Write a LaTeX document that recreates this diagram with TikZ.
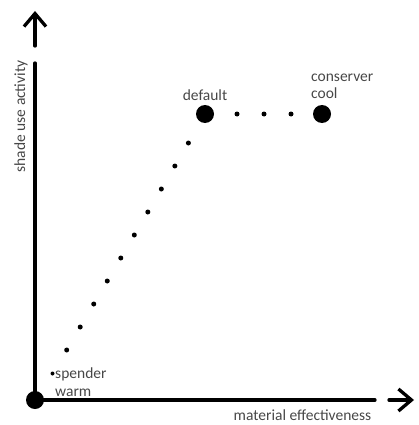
\documentclass[tikz,border=0pt]{standalone}
\usepackage{fontspec}
\setmainfont{Carlito}
\usetikzlibrary{arrows.meta}

\tikzset{
	bigdot/.style={circle,fill=black,inner sep=0pt,minimum size=18pt},
	smalldot/.style={circle,fill=black,inner sep=0pt,minimum size=5pt},
	tinydot/.style={circle,fill=black,inner sep=0pt,minimum size=4pt},
	axisline/.style={line width=3.3pt},
	lbl/.style={text=black!72,inner sep=0pt,font=\fontsize{15.5}{17.5}\selectfont}
}

\begin{document}
\begin{tikzpicture}[line cap=round,line join=round,>={Straight Barb[length=13pt,width=22pt]},x=1pt,y=-1pt]
	\useasboundingbox (0,0) rectangle (418,425);
	% points
	\node[bigdot] (origin) at (35,400) {};
	\node[bigdot] (default) at (205,114) {};
	\node[bigdot] (conserver) at (322,114) {};
	\node[tinydot] (spender) at (52.5,373.5) {};
	\foreach \i in {0,...,9}
		\node[smalldot] (d\i) at ({66.7+13.52*\i},{350-23*\i}) {};
	\foreach \i/\x in {1/237,2/264,3/291}
		\node[smalldot] (h\i) at (\x,114) {};
	% axes
	\coordinate (ytop) at (35,63);
	\coordinate (yfoot) at (35,46);
	\coordinate (ytip) at (35,11);
	\coordinate (xend) at (375,400);
	\coordinate (xfoot) at (389,400);
	\coordinate (xtip) at (414,400);
	\draw[axisline] (origin.center) -- (ytop);
	\draw[axisline,->] (yfoot) -- (ytip);
	\draw[axisline] (origin.center) -- (xend);
	\draw[axisline,->] (xfoot) -- (xtip);
	% labels
	\node[lbl,rotate=90] (ylabel) at (21,116.5) {shade use activity};
	\node[lbl] (xlabel) at (302.5,415) {material effectiveness};
	\node[lbl] (defaultlbl) at (205,95) {default};
	\node[lbl,anchor=west,align=left] (conserverlbl) at (311,86.5) {conserver\\cool};
	\node[lbl,anchor=west,align=left] (spenderlbl) at (55,382) {spender\\warm};
\end{tikzpicture}
\end{document}
